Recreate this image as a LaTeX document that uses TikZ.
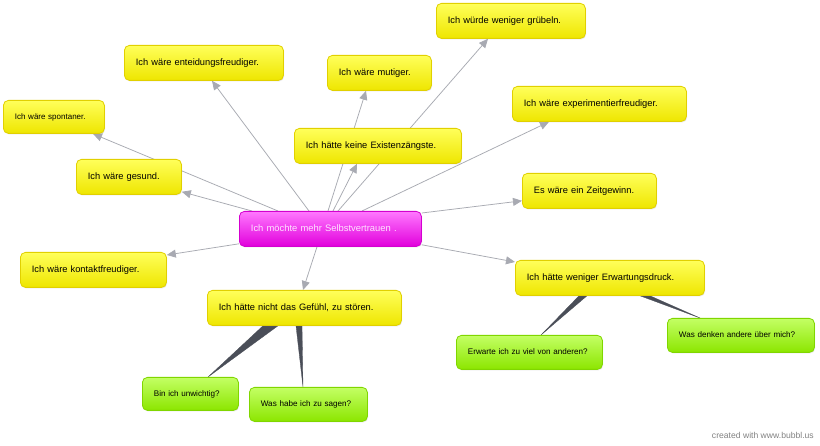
\documentclass[tikz,border=0pt]{standalone}
\usepackage{fontspec}
\setmainfont{Liberation Sans}
\usetikzlibrary{arrows.meta,shadows,backgrounds,calc}
\definecolor{yTop}{RGB}{255,255,90}
\definecolor{yMid}{RGB}{250,245,0}
\definecolor{yBot}{RGB}{238,230,0}
\definecolor{yBrd}{RGB}{225,208,0}
\definecolor{mTop}{RGB}{255,120,255}
\definecolor{mMid}{RGB}{245,25,240}
\definecolor{mBot}{RGB}{225,0,220}
\definecolor{mBrd}{RGB}{212,0,208}
\definecolor{mTxt}{RGB}{255,228,255}
\definecolor{gTop}{RGB}{195,255,100}
\definecolor{gMid}{RGB}{162,246,25}
\definecolor{gBot}{RGB}{140,230,0}
\definecolor{gBrd}{RGB}{128,214,0}
\definecolor{arrowGray}{RGB}{168,170,178}
\definecolor{wedgeGray}{RGB}{74,78,88}
\definecolor{creditGray}{RGB}{130,130,130}
\tikzset{
  boxbase/.style={rounded corners=5pt, anchor=north west, inner xsep=11.5pt, inner ysep=0pt,
    align=left, line width=0.8pt, text height=6.8pt, text depth=2pt,
    drop shadow={opacity=0.18, shadow xshift=0.8pt, shadow yshift=-1pt}},
  ybox/.style={boxbase, draw=yBrd, top color=yTop, middle color=yMid, bottom color=yBot,
    font=\fontsize{9.3}{11}\selectfont},
  ysmall/.style={ybox, font=\fontsize{8}{10}\selectfont},
  mbox/.style={boxbase, draw=mBrd, top color=mTop, middle color=mMid, bottom color=mBot,
    text=mTxt, font=\fontsize{9.4}{11}\selectfont},
  gbox/.style={boxbase, draw=gBrd, top color=gTop, middle color=gMid, bottom color=gBot,
    font=\fontsize{8.1}{10}\selectfont},
  link/.style={draw=arrowGray, line width=0.75pt,
    -{Triangle[length=9pt,width=8pt,fill=arrowGray]}},
  wedge/.style={fill=wedgeGray, draw=wedgeGray, line width=0.3pt, line join=round}
}
\newcommand\bx[7]{%
  \pgfmathsetlengthmacro\tw{#4-23}%
  \node[#6, minimum height=#5pt, text width=\tw] (#1) at (#2,#3) {#7};}
\begin{document}
\begin{tikzpicture}[x=1pt,y=-1pt]
\useasboundingbox (0,0) rectangle (820,446);

\bx{ent}{124}{45}{159}{35}{ybox}{Ich wäre enteidungsfreudiger.}
\bx{mut}{327}{55}{104}{35}{ybox}{Ich wäre mutiger.}
\bx{spo}{3}{100}{101}{33}{ysmall}{Ich wäre spontaner.}
\bx{ges}{76}{159}{105}{35}{ybox}{Ich wäre gesund.}
\bx{exi}{294}{128}{167}{35}{ybox}{Ich hätte keine Existenzängste.}
\bx{gru}{436}{3}{149}{35}{ybox}{Ich würde weniger grübeln.}
\bx{exp}{512}{86}{174}{35}{ybox}{Ich wäre experimentierfreudiger.}
\bx{zei}{522}{173}{134}{35}{ybox}{Es wäre ein Zeitgewinn.}
\bx{ctr}{239}{211}{182}{35}{mbox}{Ich möchte mehr Selbstvertrauen .}
\bx{kon}{20}{252}{146}{35}{ybox}{Ich wäre kontaktfreudiger.}
\bx{gef}{207}{290}{194}{35}{ybox}{Ich hätte nicht das Gefühl, zu stören.}
\bx{bin}{142}{377}{96}{33}{gbox}{Bin ich unwichtig?}
\bx{was}{249}{387}{118}{34}{gbox}{Was habe ich zu sagen?}
\bx{erw}{515}{260}{189}{35}{ybox}{Ich hätte weniger Erwartungsdruck.}
\bx{erz}{456}{335}{146}{34}{gbox}{Erwarte ich zu viel von anderen?}
\bx{den}{667}{318}{147}{34}{gbox}{Was denken andere über mich?}

\node[anchor=east, text=creditGray, font=\fontsize{8.6}{10}\selectfont, inner sep=0pt] (credit) at (814,435) {created with www.bubbl.us};

\begin{pgfonlayer}{background}
  \fill[white] (0,0) rectangle (820,446);
  \draw[link] ($(ctr.north west)+(70,0)$) -- ($(ent.south west)+(88,0)$);
  \draw[link] ($(ctr.north west)+(39,0)$) -- ($(spo.south west)+(90,0)$);
  \draw[link] ($(ctr.north west)+(13,0)$) -- ($(ges.south east)+(0,-3)$);
  \draw[link] ($(ctr.north west)+(89,0)$) -- ($(mut.south west)+(39,0)$);
  \draw[link] ($(ctr.north west)+(94,0)$) -- ($(exi.south west)+(63,0)$);
  \draw[link] ($(ctr.north west)+(99,0)$) -- ($(gru.south west)+(52,0)$);
  \draw[link] ($(ctr.north west)+(123,0)$) -- ($(exp.south west)+(37,0)$);
  \draw[link] ($(ctr.north east)+(0,2)$) -- ($(zei.south west)+(0,-8)$);
  \draw[link] ($(ctr.south west)+(0,-3)$) -- ($(kon.north east)+(0,3)$);
  \draw[link] ($(ctr.south west)+(78,0)$) -- ($(gef.north west)+(96,0)$);
  \draw[link] ($(ctr.south east)+(0,-2)$) -- ($(erw.north west)+(0,2)$);

  \fill[wedge] ($(gef.south west)+(56,0)$) -- ($(gef.south west)+(71,0)$) -- ($(bin.north west)+(66,0)$) -- cycle;
  \fill[wedge] ($(gef.south west)+(89,0)$) -- ($(gef.south west)+(95,0)$) -- ($(was.north west)+(54,0)$) -- cycle;
  \fill[wedge] ($(erw.south west)+(64,0)$) -- ($(erw.south west)+(72,0)$) -- ($(erz.north west)+(85,0)$) -- cycle;
  \fill[wedge] ($(erw.south west)+(125,0)$) -- ($(erw.south west)+(135,0)$) -- ($(den.north west)+(33,0)$) -- cycle;
\end{pgfonlayer}
\end{tikzpicture}
\end{document}
